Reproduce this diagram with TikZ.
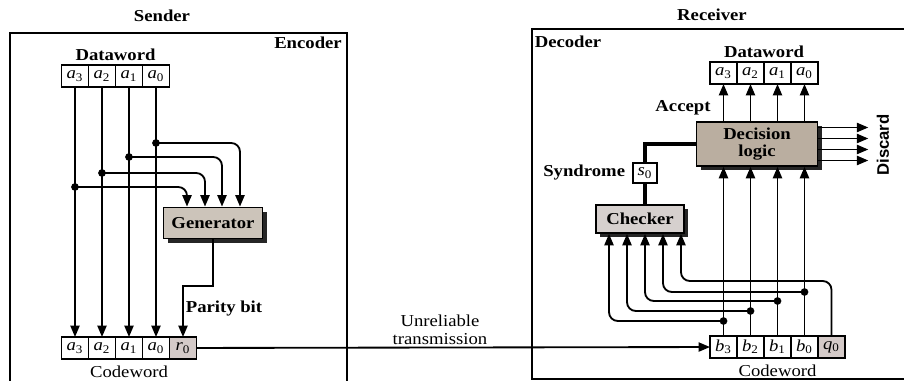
\documentclass[tikz,border=0pt]{standalone}
\usepackage{fontspec}
\setmainfont{Liberation Serif}[FakeStretch=1.12]
\setsansfont{Liberation Sans}
\usetikzlibrary{arrows.meta,positioning,shadows}
\definecolor{genfill}{RGB}{204,196,186}
\definecolor{decfill}{RGB}{186,174,160}
\definecolor{chkfill}{RGB}{214,208,206}
\definecolor{parfill}{RGB}{212,202,200}
\newcommand{\cellbit}[2]{{\itshape #1}\textsubscript{#2}}

\begin{document}
\fontsize{9.5}{10}\selectfont
\begin{tikzpicture}[x=0.02cm, y=-0.02cm, line width=1.05pt,
    >={Triangle[length=6.5pt,width=5.2pt]},
    cell/.style={draw, line width=0.9pt, minimum width=0.54cm, minimum height=0.44cm, inner sep=0pt, outer sep=0pt},
    unit/.style={draw, line width=1pt, font=\bfseries,
        drop shadow={shadow xshift=2.4pt, shadow yshift=-2.4pt, fill=black!85, opacity=1}},
    lbl/.style={font=\bfseries, inner sep=1pt}]
    \useasboundingbox (0,0) rectangle (904,381);
    % frames
    \draw[line width=1.1pt] (10,395) -- (10,33) -- (347,33) -- (347,395);
    \draw[line width=1.1pt] (915,29) -- (532,29) -- (532,379) -- (915,379);
    \node[lbl] at (162,16) {Sender};
    \node[lbl] at (712,15) {Receiver};
    \node[lbl] at (308,43) {Encoder};
    \node[lbl] at (568,42) {Decoder};

    % sender
    \foreach \b [count=\i] in {3,2,1,0} {
        \node[cell] (sd\b) at ({48+27*\i},76) {\cellbit{a}{\b}};
        \node[cell] (sc\b) at ({48+27*\i},348) {\cellbit{a}{\b}};
        \draw[->] (sd\b) -- (sc\b);
    }
    \node[cell, fill=parfill] (sr0) at (183,348) {\cellbit{r}{0}};
    \node[lbl, above=1pt of sd2.north east] {Dataword};
    \node[below=0pt of sc1] {Codeword};
    \node[unit, fill=genfill, minimum width=1.98cm, minimum height=0.62cm] (gen) at (213,223) {Generator};
    \foreach \b/\dy/\dx in {3/100/-0.52, 2/86/-0.16, 1/70/0.18, 0/56/0.54} {
        \path (sd\b.south) ++(0,\dy) coordinate (br\b);
        \fill (br\b) circle (2.2pt);
        \draw[->, rounded corners=5pt] (br\b) -| ([xshift=\dx cm]gen.north);
    }
    \draw[->] (gen.south) -- ++(0,47) -| (sr0.north);
    \node[lbl] at (224,309) {Parity bit};

    % receiver
    \foreach \b [count=\i] in {3,2,1,0} {
        \node[cell] (rd\b) at ({696.5+27*\i},73) {\cellbit{a}{\b}};
        \node[cell] (rc\b) at ({696.5+27*\i},347) {\cellbit{b}{\b}};
    }
    \node[cell, fill=parfill] (rq0) at (831.5,347) {\cellbit{q}{0}};
    \node[lbl, above=1pt of rd2.north east] {Dataword};
    \node[below=0pt of rc1] {Codeword};
    \node[unit, fill=decfill, minimum width=2.42cm, minimum height=0.84cm, align=center] (dec) at (757,144) {Decision\\logic};
    \foreach \b in {3,2,1,0} {
        \draw[->] (rc\b.north) -- (rc\b.north |- dec.south);
        \draw[->] (rd\b.south |- dec.north) -- (rd\b.south);
    }
    \node[lbl] at (683,108) {Accept};
    \foreach \dy in {0.33,0.11,-0.11,-0.33}
        \draw[->] ([yshift=\dy cm]dec.east) -- ++(50,0);
    \node[font=\sffamily\bfseries, rotate=90] at (883,145) {Discard};

    \node[cell, minimum width=0.48cm, minimum height=0.4cm] (s0) at (645,173) {\cellbit{s}{0}};
    \node[lbl, left=3pt of s0] {Syndrome};
    \node[unit, fill=chkfill, minimum width=1.76cm, minimum height=0.56cm] (chk) at (640,219) {Checker};
    \draw[line width=2.4pt] (dec.west) -| (s0.north);
    \draw[line width=2.4pt] (s0.south) -- (s0.south |- chk.north);
    \foreach \b/\dy/\dx in {3/15/-0.62, 2/25/-0.26, 1/35/0.1, 0/44/0.46} {
        \path (rc\b.north) ++(0,-\dy) coordinate (rb\b);
        \fill (rb\b) circle (2.2pt);
        \draw[->, rounded corners=5pt] (rb\b) -| ([xshift=\dx cm]chk.south);
    }
    \draw[->, rounded corners=5pt] (rq0.north) -- ++(0,-55) -| ([xshift=0.82cm]chk.south);

    % channel
    \draw[->] (sr0) -- (rc3);
    \node[align=center] at (440,330) {Unreliable\\transmission};
\end{tikzpicture}
\end{document}
